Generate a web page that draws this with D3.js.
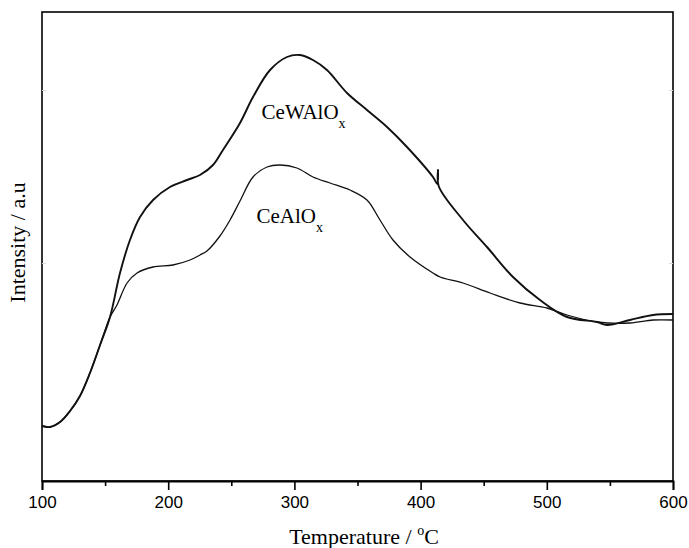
<!DOCTYPE html>
<html>
<head>
<meta charset="utf-8">
<script src="https://cdn.jsdelivr.net/npm/d3@7"></script>
<style>
  html, body { margin: 0; padding: 0; background: #fff; }
  svg { display: block; }
</style>
</head>
<body>
<svg id="chart" width="689" height="548"></svg>
<script>
// ---- data ----
const tempCeWAlOx = [100,106.3,114.3,122.2,130.1,138,146,153.9,161.8,169.7,177.7,188,201.4,214.9,225.2,235.5,243.4,256.9,267.2,280.7,294.1,304.4,314.7,325.8,341.7,357.5,373.4,389.2,409.8,413.3,413.8,414.3,433.6,452.6,473.2,494.6,516,539.8,547.7,565.9,584.2,600];
const intCeWAlOx  = [55,54,59,70,85,108,136,164,208,241,264,281,294,301,306,316,331,358,384,411,424,426,421,411,388,371,354,334,304,297,311,295,261,234,204,181,164,159,156,161,166,167];

const tempCeAlOx = [100,106.3,114.3,122.2,130.1,138,146,153.9,159.4,167.4,175.3,188,203.8,217.3,225.2,230.7,241,249,256.9,267.2,278.3,288.6,302,314.7,328.2,344,357.5,367.8,378.1,391.6,409.8,415.4,433.6,455,478.8,500.2,516,539.8,565.9,584.2,600];
const intCeAlOx  = [55,54,59,70,85,108,136,164,176,198,208,214,216,221,226,230,245,261,280,304,314,316,313,304,298,291,281,261,241,224,208,204,198,188,178,173,166,159,158,161,161];

const xMajorTicks = [100,200,300,400,500,600];
const xMinorTicks = [150,250,350,450,550];
const yFaintTicks = [218, 391];
const seriesLabels = [
  {name: "CeWAlO", sub: "x", t: 274, v: 362},
  {name: "CeAlO",  sub: "x", t: 270, v: 258}
];

// ---- layout ----
const svg = d3.select("#chart");
const margin = {left: 42, top: 12, right: 16, bottom: 67};
const W = 689, H = 548;
const x = d3.scaleLinear().domain([100, 600]).range([margin.left, W - margin.right]);
const y = d3.scaleLinear().domain([0, 469]).range([H - margin.bottom, margin.top]);

const serif = "'Liberation Serif', 'Times New Roman', serif";
const sans = "'Liberation Sans', Arial, sans-serif";

// frame
svg.append("rect")
  .attr("x", x(100)).attr("y", y(469))
  .attr("width", x(600) - x(100)).attr("height", y(0) - y(469))
  .attr("fill", "none").attr("stroke", "#000").attr("stroke-width", 1.6);

// x axis
const xAxis = d3.axisBottom(x).tickValues(xMajorTicks).tickSize(9).tickPadding(6).tickFormat(d3.format("d"));
const gx = svg.append("g").attr("transform", `translate(0,${y(0)})`).call(xAxis);
gx.select(".domain").attr("stroke-width", 1.8);
gx.selectAll(".tick line").attr("stroke-width", 1.6);
gx.selectAll("text").attr("font-family", sans).attr("font-size", 17).attr("fill", "#000");

const gxm = svg.append("g").attr("transform", `translate(0,${y(0)})`)
  .call(d3.axisBottom(x).tickValues(xMinorTicks).tickSize(5).tickFormat(""));
gxm.select(".domain").remove();
gxm.selectAll(".tick line").attr("stroke-width", 1.6);

// faint y ticks (inward)
const gyl = svg.append("g").attr("transform", `translate(${x(100)},0)`)
  .call(d3.axisRight(y).tickValues(yFaintTicks).tickSize(4).tickFormat(""));
gyl.select(".domain").remove();
gyl.selectAll(".tick line").attr("stroke", "#d8d8d8");
const gyr = svg.append("g").attr("transform", `translate(${x(600)},0)`)
  .call(d3.axisLeft(y).tickValues(yFaintTicks).tickSize(4).tickFormat(""));
gyr.select(".domain").remove();
gyr.selectAll(".tick line").attr("stroke", "#d8d8d8");

// lines
const line = d3.line().x(d => x(d[0])).y(d => y(d[1])).curve(d3.curveCatmullRom.alpha(0.5));
svg.append("path")
  .datum(tempCeAlOx.map((t, i) => [t, intCeAlOx[i]]))
  .attr("d", line).attr("fill", "none").attr("stroke", "#111").attr("stroke-width", 1.3);
svg.append("path")
  .datum(tempCeWAlOx.map((t, i) => [t, intCeWAlOx[i]]))
  .attr("d", line).attr("fill", "none").attr("stroke", "#111").attr("stroke-width", 1.9);

// series labels
seriesLabels.forEach(s => {
  const t = svg.append("text")
    .attr("x", x(s.t)).attr("y", y(s.v))
    .attr("font-family", serif).attr("font-size", 21).attr("fill", "#000");
  t.append("tspan").text(s.name);
  t.append("tspan").attr("dy", 9).attr("font-size", 14).text(s.sub);
});

// axis titles
const xt = svg.append("text")
  .attr("x", 364).attr("y", 544)
  .attr("text-anchor", "middle")
  .attr("font-family", serif).attr("font-size", 22).attr("fill", "#000");
xt.append("tspan").text("Temperature / ");
xt.append("tspan").attr("dy", -9).attr("font-size", 14).text("o");
xt.append("tspan").attr("dy", 9).text("C");

svg.append("text")
  .attr("transform", `translate(25,${(y(0) + y(469)) / 2 - 4}) rotate(-90)`)
  .attr("text-anchor", "middle")
  .attr("font-family", serif).attr("font-size", 22).attr("fill", "#000")
  .text("Intensity / a.u");
</script>
</body>
</html>
